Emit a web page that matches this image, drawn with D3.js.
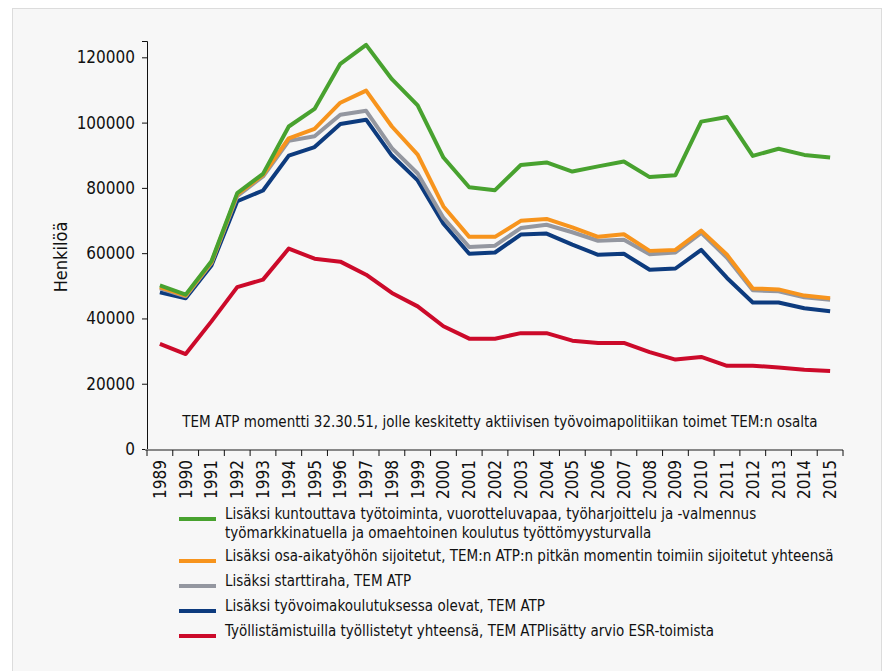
<!DOCTYPE html>
<html lang="fi">
  <head>
    <meta charset="UTF-8" />
    <script src="https://d3js.org/d3.v7.min.js"></script>
    <style>
      body { margin: 0; background: #fff; }
      svg text { font-family: "Liberation Sans Narrow", "DejaVu Sans Condensed", sans-serif; fill: #111; }
    </style>
  </head>
  <body>
    <svg id="chart" width="884" height="671"></svg>
    <script>
      const years = [1989, 1990, 1991, 1992, 1993, 1994, 1995, 1996, 1997, 1998, 1999, 2000, 2001, 2002,
        2003, 2004, 2005, 2006, 2007, 2008, 2009, 2010, 2011, 2012, 2013, 2014, 2015];

      const green = [50100, 47300, 57500, 78400, 84300, 98800, 104200, 118000, 123800, 113300, 105300, 89300, 80200,
        79300, 87000, 87800, 85000, 86600, 88100, 83300, 83900, 100300, 101700, 89800, 92000, 90100, 89300];
      const orange = [49600, 47000, 57200, 78000, 84000, 95200, 98100, 106100, 109800, 98800, 90200, 74300, 65000,
        65000, 69900, 70500, 67900, 65000, 65800, 60700, 61000, 66900, 59500, 49200, 48900, 47000, 46200];
      const gray = [49200, 46800, 57000, 77500, 83500, 94400, 95800, 102400, 103600, 92200, 84400, 70800, 61900,
        62300, 67700, 68700, 66400, 63800, 64100, 59700, 60200, 66200, 58600, 48600, 48300, 46500, 45700];
      const blue = [48000, 46200, 56200, 75900, 79200, 89900, 92500, 99600, 100900, 89900, 82300, 69000, 59800,
        60200, 65700, 66000, 62600, 59500, 59800, 54900, 55300, 61000, 52400, 44900, 44900, 43100, 42200];
      const red = [32200, 29100, 39100, 49600, 51900, 61400, 58300, 57400, 53400, 47800, 43700, 37600, 33800,
        33800, 35500, 35500, 33200, 32500, 32500, 29700, 27400, 28200, 25500, 25500, 25000, 24300, 23900];

      const seriesNames = [
        ["Lisäksi kuntouttava työtoiminta, vuorotteluvapaa, työharjoittelu ja -valmennus",
          "työmarkkinatuella ja omaehtoinen koulutus työttömyysturvalla"],
        ["Lisäksi osa-aikatyöhön sijoitetut, TEM:n ATP:n pitkän momentin toimiin sijoitetut yhteensä"],
        ["Lisäksi starttiraha, TEM ATP"],
        ["Lisäksi työvoimakoulutuksessa olevat, TEM ATP"],
        ["Työllistämistuilla työllistetyt yhteensä, TEM ATPlisätty arvio ESR-toimista"],
      ];
      const seriesColors = ["#48a22f", "#f7941d", "#9497a0", "#0d3b7e", "#cc0a2a"];
      const yTicks = [0, 20000, 40000, 60000, 80000, 100000, 120000];
      const note = "TEM ATP momentti 32.30.51, jolle keskitetty aktiivisen työvoimapolitiikan toimet TEM:n osalta";

      const series = [green, orange, gray, blue, red].map((vals, i) => ({
        name: seriesNames[i],
        color: seriesColors[i],
        values: vals.map((v, j) => ({ year: years[j], value: v })),
      }));

      const svg = d3.select("#chart");

      // light panel behind everything
      svg.append("rect")
        .attr("x", 12.5).attr("y", 8.5)
        .attr("width", 869).attr("height", 680)
        .attr("fill", "#f7f7f7")
        .attr("stroke", "#dcdcdc");

      const x = d3.scaleBand().domain(years).range([147, 843]);
      const y = d3.scaleLinear().domain([0, 125000]).range([449, 41]);

      // y axis
      const yAxis = svg.append("g")
        .attr("transform", "translate(147,0)")
        .call(d3.axisLeft(y).tickValues(yTicks).tickSize(5).tickFormat(d3.format("d")));
      yAxis.select(".domain").attr("stroke", "#111");
      yAxis.selectAll(".tick line").attr("stroke", "#111");
      yAxis.selectAll(".tick text").attr("x", -12).style("font-size", "17px").attr("fill", "#111");

      svg.append("text")
        .attr("transform", "translate(67,257) rotate(-90)")
        .attr("text-anchor", "middle")
        .style("font-size", "18px")
        .text("Henkilöä");

      // x axis: line + ticks on band edges, rotated labels
      const xg = svg.append("g");
      xg.append("line")
        .attr("x1", 145).attr("x2", 843)
        .attr("y1", 450).attr("y2", 450)
        .attr("stroke", "#888").attr("stroke-width", 2);
      const edges = years.map((d) => x(d)).concat([x.range()[1]]);
      xg.selectAll("line.tk")
        .data(edges)
        .join("line")
        .attr("class", "tk")
        .attr("x1", (d) => d).attr("x2", (d) => d)
        .attr("y1", 450).attr("y2", 456)
        .attr("stroke", "#111");
      xg.selectAll("text")
        .data(years)
        .join("text")
        .attr("transform", (d) => `translate(${x(d) + x.bandwidth() / 2 + 6},460) rotate(-90)`)
        .attr("text-anchor", "end")
        .style("font-size", "17px")
        .text((d) => d);

      svg.append("text")
        .attr("x", 500).attr("y", 427)
        .attr("text-anchor", "middle")
        .style("font-size", "15px")
        .text(note);

      const line = d3.line()
        .x((d) => x(d.year) + x.bandwidth() / 2)
        .y((d) => y(d.value));

      // draw bottom series first so green sits on top
      svg.append("g")
        .selectAll("path")
        .data(series.slice().reverse())
        .join("path")
        .attr("d", (d) => line(d.values))
        .attr("fill", "none")
        .attr("stroke", (d) => d.color)
        .attr("stroke-width", 4)
        .attr("stroke-linejoin", "round");

      // legend
      const legendY = [519, 561, 586, 611, 636];
      const lg = svg.append("g")
        .selectAll("g")
        .data(series)
        .join("g")
        .attr("transform", (d, i) => `translate(179,${legendY[i]})`);
      lg.append("line")
        .attr("x1", 0).attr("x2", 37)
        .attr("stroke", (d) => d.color)
        .attr("stroke-width", 4);
      lg.append("text")
        .attr("x", 46)
        .attr("dy", "0.35em")
        .style("font-size", "15px")
        .selectAll("tspan")
        .data((d) => d.name)
        .join("tspan")
        .attr("x", 46)
        .attr("dy", (d, i) => (i === 0 ? 0 : 19))
        .text((d) => d);
    </script>
  </body>
</html>
